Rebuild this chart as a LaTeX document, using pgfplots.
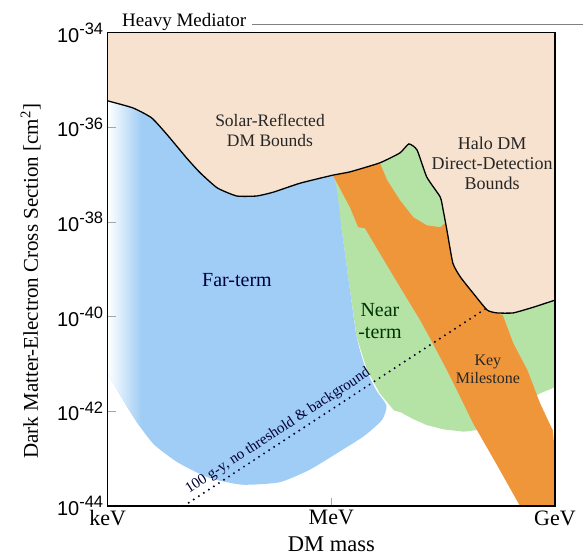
\documentclass[border=0pt]{standalone}
\usepackage{pgfplots}
\pgfplotsset{compat=1.18}
\usepackage{fontspec}
\setmainfont{Liberation Serif}
\setsansfont{Liberation Sans}
\definecolor{tanc}{RGB}{246,226,206}
\definecolor{bluec}{RGB}{160,205,245}
\definecolor{greenc}{RGB}{181,227,165}
\definecolor{orangec}{RGB}{240,150,58}
\newcommand{\tl}[1]{10\raisebox{0.38em}{\fontsize{16.5}{16.5}\selectfont #1}}
\begin{document}
\begin{tikzpicture}
\path[use as bounding box] (-107.7pt,-51pt) rectangle (475.3pt,506pt);
\begin{axis}[
  scale only axis, width=447.3pt, height=473.3pt,
  xmin=0, xmax=6, ymin=-44, ymax=-34,
  axis on top, no markers, clip mode=individual,
  axis line style={line width=1.1pt, black},
  xtick={0,3,6}, xticklabels={keV,MeV,GeV},
  ytick={-44,-42,-40,-38,-36,-34},
  yticklabels={\tl{-44},\tl{-42},\tl{-40},\tl{-38},\tl{-36},\tl{-34}},
  xtick pos=bottom, ytick pos=left,
  tick style={gray!70, line width=0.8pt},
  major tick length=8pt,
  x tick label style={font=\fontsize{22}{22}\selectfont, yshift=-1pt},
  y tick label style={font=\sffamily\fontsize{20}{20}\selectfont, xshift=-1pt},
  xlabel={DM mass},
  xlabel style={font=\fontsize{22.5}{22.5}\selectfont, at={(axis description cs:0.5,0)}, anchor=center, yshift=-38pt},
]
% Near-term (green)
\addplot[draw=none, fill=greenc] coordinates {
 (3.02,-37.01) (3.25,-36.94) (3.65,-36.75) (3.92,-36.54) (4.04,-36.35) (4.15,-36.48)
 (4.28,-37.05) (4.46,-37.47) (4.50,-37.75) (4.55,-38.17) (4.63,-38.87) (4.73,-39.16)
 (4.90,-39.50) (5.09,-39.86) (5.22,-39.92) (5.44,-39.92) (5.71,-39.80) (6.00,-39.65)
 (6.00,-41.49) (5.80,-41.62) (5.60,-41.80) (5.44,-41.97) (5.26,-42.18) (5.10,-42.32) (4.98,-42.39) (4.78,-42.43)
 (4.50,-42.38) (4.28,-42.29) (4.08,-42.15) (3.93,-42.02) (3.84,-41.98) (3.65,-41.62) (3.48,-41.13) (3.34,-40.43)
 (3.25,-39.44) (3.14,-38.17) (3.02,-37.01)};
% Far-term (blue)
\addplot[draw=none, fill=bluec, smooth, tension=0.35] coordinates {
 (0,-35.44) (0.34,-35.59) (0.59,-35.80) (0.80,-36.16) (1.06,-36.65) (1.24,-36.96)
 (1.47,-37.28) (1.73,-37.45) (2.00,-37.45) (2.22,-37.37) (2.58,-37.18) (3.02,-37.01)
 (3.14,-38.17) (3.25,-39.44) (3.34,-40.43) (3.45,-41.05) (3.60,-41.55) (3.74,-41.88)
 (3.68,-42.18) (3.44,-42.52) (3.04,-42.92) (2.69,-43.25) (2.30,-43.50) (1.80,-43.55)
 (1.35,-43.40) (0.94,-43.08) (0.62,-42.70) (0.40,-42.25) (0.24,-41.85) (0.11,-41.50) (0,-41.20)};
% fade to white at the left edge
\addplot[draw=none, left color=white, right color=bluec] coordinates {
 (0,-35.3) (0.45,-35.3) (0.45,-42.35) (0.40,-42.25) (0.24,-41.85) (0.11,-41.50) (0,-41.20)};
% Key milestone (orange)
\addplot[draw=none, fill=orangec] coordinates {
 (3.02,-37.01) (3.25,-37.69) (3.36,-38.11) (3.45,-38.13) (3.65,-38.66) (3.92,-39.37)
 (4.19,-40.07) (4.36,-40.56) (4.55,-41.13) (4.73,-41.70) (4.90,-42.25) (5.22,-43.13)
 (5.53,-44.00) (6.00,-44.00) (6.00,-42.87) (5.97,-42.40) (5.80,-41.83) (5.63,-41.13)
 (5.44,-40.56) (5.30,-39.97) (5.22,-39.92) (5.09,-39.86) (4.90,-39.50) (4.73,-39.16)
 (4.63,-38.87) (4.55,-38.17) (4.53,-38.02) (4.46,-38.11) (4.28,-38.07) (4.10,-37.90)
 (3.92,-37.54) (3.75,-37.12) (3.65,-36.75) (3.25,-36.94) (3.02,-37.01)};
% Excluded bounds (tan)
\addplot[draw=none, fill=tanc] coordinates {
 (0,-35.44) (0.34,-35.59) (0.59,-35.80) (0.80,-36.16) (1.06,-36.65) (1.24,-36.96)
 (1.47,-37.28) (1.73,-37.45) (2.00,-37.45) (2.22,-37.37) (2.58,-37.18) (3.02,-37.01)
 (3.25,-36.94) (3.65,-36.75) (3.92,-36.54) (4.04,-36.35) (4.15,-36.48) (4.28,-37.05)
 (4.46,-37.47) (4.50,-37.75) (4.55,-38.17) (4.63,-38.87) (4.73,-39.16) (4.90,-39.50)
 (5.09,-39.86) (5.22,-39.92) (5.44,-39.92) (5.71,-39.80) (6.00,-39.65) (6,-34) (0,-34)};
% boundary line
\addplot[black, line width=1.3pt, smooth, tension=0.3] coordinates {
 (0,-35.44) (0.34,-35.59) (0.59,-35.80) (0.80,-36.16) (1.06,-36.65) (1.24,-36.96)
 (1.47,-37.28) (1.73,-37.45) (2.00,-37.45) (2.22,-37.37) (2.58,-37.18) (3.02,-37.01)
 (3.25,-36.94) (3.65,-36.75) (3.92,-36.54) (4.04,-36.35) (4.15,-36.48) (4.28,-37.05)
 (4.46,-37.47) (4.50,-37.75) (4.55,-38.17) (4.63,-38.87) (4.73,-39.16) (4.90,-39.50)
 (5.09,-39.86) (5.22,-39.92) (5.44,-39.92) (5.71,-39.80) (6.00,-39.65)};
% 100 g-y dotted line
\addplot[black!85!blue, line width=2.2pt, line cap=round, dash pattern=on 0pt off 6pt] coordinates {(1.02,-44) (5.09,-39.81)};
\node[rotate=33.2, anchor=south, inner sep=4pt, text=black!80!blue, font=\fontsize{15}{15}\selectfont] at (axis cs:2.365,-42.615) {100 g-y, no threshold \& background};
\node[align=center, font=\fontsize{17.5}{20}\selectfont, text=black!85] at (axis cs:2.177,-36.056) {Solar-Reflected\\DM Bounds};
\node[align=center, font=\fontsize{18}{20}\selectfont, text=black!85] at (axis cs:5.157,-36.75) {Halo DM\\Direct-Detection\\Bounds};
\node[align=center, font=\fontsize{20}{22}\selectfont, text=black!75!blue] at (axis cs:1.734,-39.22) {Far-term};
\node[align=center, font=\fontsize{20}{22}\selectfont, text=black!80!green] at (axis cs:3.652,-40.09) {Near\\-term};
\node[align=center, font=\fontsize{16}{18}\selectfont, text=black!85] at (axis cs:5.10,-41.11) {Key\\Milestone};
\node[rotate=90, font=\fontsize{21}{21}\selectfont] at ([xshift=-77pt, yshift=-12pt]axis description cs:0,0.5) {Dark Matter-Electron Cross Section [cm\textsuperscript{2}]};
\node[anchor=base west, font=\fontsize{19}{19}\selectfont, inner sep=0pt] at ([yshift=6pt]axis description cs:0.032,1) {Heavy Mediator};
\draw[gray, line width=0.8pt] ([yshift=8pt]axis description cs:0.3226,1) -- ([yshift=8pt]axis description cs:1.0627,1);
\end{axis}
\end{tikzpicture}
\end{document}
